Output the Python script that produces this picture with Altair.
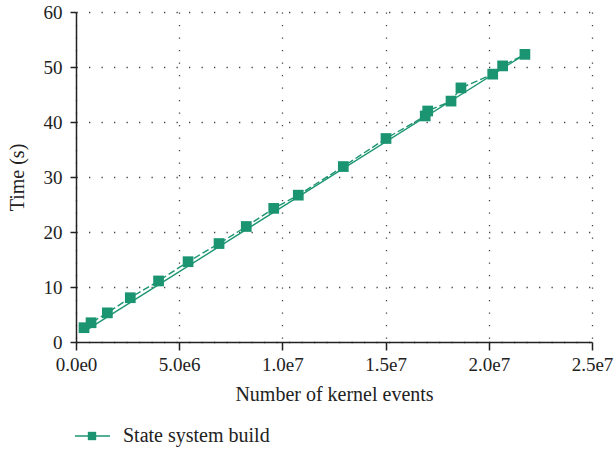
import altair as alt
import pandas as pd

# Kernel events processed vs. time to build the state system
events = [0.39e6, 0.73e6, 1.52e6, 2.63e6, 4.00e6, 5.43e6, 6.93e6, 8.25e6, 9.58e6,
          10.77e6, 12.95e6, 15.02e6, 16.92e6, 17.04e6, 18.17e6, 18.65e6, 20.19e6,
          20.67e6, 21.75e6]
seconds = [2.6, 3.5, 5.3, 8.05, 11.1, 14.6, 17.9, 21.0, 24.3,
           26.7, 31.9, 37.0, 41.1, 42.0, 43.8, 46.2, 48.7, 50.2, 52.3]

# linear trend line endpoints
trend_events = [0.39e6, 21.75e6]
trend_seconds = [1.9, 52.3]

series_name = ["State system build"]

x_ticks = [0, 5e6, 1e7, 1.5e7, 2e7, 2.5e7]
y_ticks = [0, 10, 20, 30, 40, 50, 60]

GREEN = "#1b9571"
FONT = "Liberation Serif"

df = pd.DataFrame({"events": events, "time": seconds})
trend_df = pd.DataFrame({"events": trend_events, "time": trend_seconds})
legend_df = pd.DataFrame({"name": series_name})

x_enc = alt.X(
    "events:Q",
    scale=alt.Scale(domain=[0, 2.5e7], nice=False),
    axis=alt.Axis(
        values=x_ticks,
        title="Number of kernel events",
        labelExpr="replace(format(datum.value, '.1e'), '+', '')",
        labelFlush=False,
        tickSize=8,
        labelPadding=5,
        titleY=52,
        titleBaseline="middle",
    ),
)
y_enc = alt.Y(
    "time:Q",
    scale=alt.Scale(domain=[0, 60], nice=False),
    axis=alt.Axis(
        values=y_ticks,
        title="Time (s)",
        tickSize=6,
        labelPadding=8,
        labelFlush=False,
        titleX=-59,
        titleBaseline="middle",
    ),
)

# measured points joined by a dashed line
joined = alt.Chart(df).mark_line(color=GREEN, strokeWidth=1.4, strokeDash=[7, 3]).encode(x=x_enc, y=y_enc)
points = alt.Chart(df).mark_point(
    shape="square", filled=True, opacity=1, size=115, color=GREEN
).encode(x=x_enc, y=y_enc)

# solid trend line
trend = alt.Chart(trend_df).mark_line(color=GREEN, strokeWidth=1.4).encode(x=x_enc, y=y_enc)

# legend drawn below the plot
leg = alt.Chart(legend_df)
leg_line = leg.mark_rule(color=GREEN, strokeWidth=1.6).encode(
    x=alt.value(-1), x2=alt.value(34), y=alt.value(424)
)
leg_mark = leg.mark_point(shape="square", filled=True, opacity=1, size=70, color=GREEN).encode(
    x=alt.value(16), y=alt.value(424)
)
leg_text = leg.mark_text(align="left", baseline="middle", font=FONT, fontSize=20, color="#222").encode(
    x=alt.value(47), y=alt.value(424), text="name:N"
)

chart = (
    alt.layer(trend, joined, points, leg_line, leg_mark, leg_text)
    .properties(
        width=516,
        height=330,
        autosize=alt.AutoSizeParams(type="none"),
        padding={"left": 76, "top": 12, "right": 23, "bottom": 110},
    )
    .configure_view(stroke=None)
    .configure_axis(
        labelFont=FONT,
        titleFont=FONT,
        labelFontSize=19,
        titleFontSize=20,
        titleFontWeight="normal",
        labelColor="#222",
        titleColor="#222",
        domainColor="#222",
        domainWidth=1.5,
        tickColor="#222",
        tickWidth=1.5,
        grid=True,
        gridColor="#444",
        gridWidth=1.3,
        gridDash=[1.3, 11.2],
    )
)

chart.save("out.html", embed_options={"renderer": "svg", "actions": False})
